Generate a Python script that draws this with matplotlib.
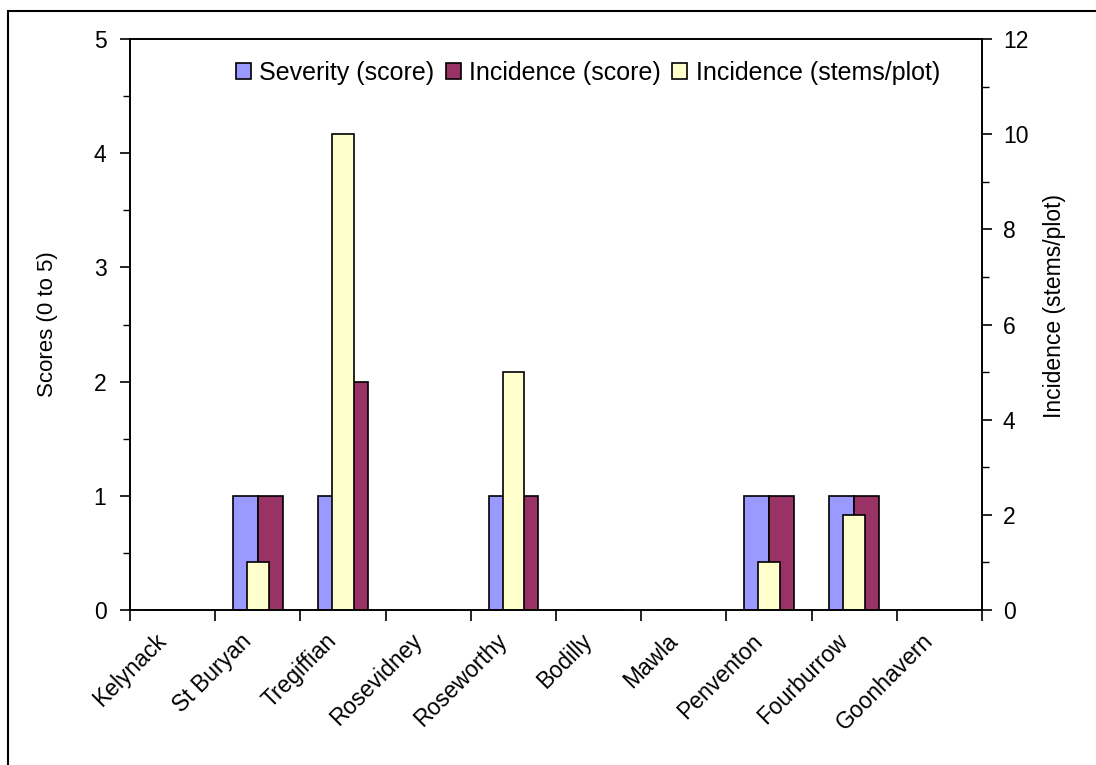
import matplotlib.pyplot as plt
import matplotlib.ticker as mticker
import matplotlib.transforms as mtransforms
from matplotlib.patches import Rectangle, Patch
import numpy as np

# Sites and disease assessments
sites = ['Kelynack', 'St Buryan', 'Tregiffian', 'Rosevidney', 'Roseworthy',
         'Bodilly', 'Mawla', 'Penventon', 'Fourburrow', 'Goonhavern']
severity_score = [0, 1, 1, 0, 1, 0, 0, 1, 1, 0]
incidence_score = [0, 1, 2, 0, 1, 0, 0, 1, 1, 0]
incidence_stems = [0, 1, 10, 0, 5, 0, 0, 1, 2, 0]

FS = 16.5
plt.rcParams.update({
    'font.family': ['Liberation Sans', 'DejaVu Sans'],
    'font.size': FS,
})

C_SEV = '#9999FF'
C_INC = '#993366'
C_STEM = '#FFFFCC'

fig = plt.figure(figsize=(10.96, 7.65), dpi=100)
ax1 = fig.add_axes([130 / 1096, 1 - 610 / 765, 852 / 1096, 571 / 765])
ax2 = ax1.twinx()

x = np.arange(len(sites))
w = 0.29
ax1.bar(x - w / 2, severity_score, width=w, color=C_SEV,
        edgecolor='black', linewidth=1.2, zorder=2)
ax1.bar(x + w / 2, incidence_score, width=w, color=C_INC,
        edgecolor='black', linewidth=1.2, zorder=2)
ax2.bar(x, incidence_stems, width=0.255, color=C_STEM,
        edgecolor='black', linewidth=1.2, zorder=2)

# Left axis: scores
ax1.set_xlim(-0.5, len(sites) - 0.5)
ax1.set_ylim(0, 5)
ax1.yaxis.set_major_locator(mticker.MultipleLocator(1))
ax1.yaxis.set_minor_locator(mticker.MultipleLocator(0.5))
ax1.set_ylabel('Scores (0 to 5)', fontsize=FS - 0.5)
ax1.yaxis.set_label_coords(-0.084, 0.5)
ax1.tick_params(axis='y', which='major', direction='out', length=7,
                width=1.2, pad=10)
ax1.tick_params(axis='y', which='minor', direction='out', length=5, width=1.0)

# Right axis: stems per plot
ax2.set_ylim(0, 12)
ax2.yaxis.set_major_locator(mticker.MultipleLocator(2))
ax2.yaxis.set_minor_locator(mticker.MultipleLocator(1))
ax2.set_ylabel('Incidence (stems/plot)', fontsize=FS)
ax2.yaxis.set_label_coords(1.072, 0.532)
ax2.tick_params(axis='y', which='major', direction='out', length=7,
                width=1.2, pad=8)
ax2.tick_params(axis='y', which='minor', direction='out', length=5, width=1.0)

# Category axis: ticks between sites, labels at centres
ax1.xaxis.set_major_locator(mticker.FixedLocator(np.arange(len(sites) + 1) - 0.5))
ax1.xaxis.set_major_formatter(mticker.NullFormatter())
ax1.xaxis.set_minor_locator(mticker.FixedLocator(x))
ax1.set_xticklabels(sites, minor=True, rotation=45, ha='right',
                    rotation_mode='anchor')
ax1.tick_params(axis='x', which='major', direction='out', length=8, width=1.2)
ax1.tick_params(axis='x', which='minor', length=0, pad=14)
shift = mtransforms.ScaledTranslation(-18 / 100, 0, fig.dpi_scale_trans)
for lbl in ax1.get_xticklabels(minor=True):
    lbl.set_transform(lbl.get_transform() + shift)

for ax in (ax1, ax2):
    for sp in ax.spines.values():
        sp.set_linewidth(1.2)

handles = [Patch(facecolor=C_SEV, edgecolor='black', linewidth=1.2),
           Patch(facecolor=C_INC, edgecolor='black', linewidth=1.2),
           Patch(facecolor=C_STEM, edgecolor='black', linewidth=1.2)]
labels = ['Severity (score)', 'Incidence (score)', 'Incidence (stems/plot)']
ax2.legend(handles, labels, loc='center', ncol=3, frameon=False,
           bbox_to_anchor=(588 / 1096, 1 - 73 / 765),
           bbox_transform=fig.transFigure,
           handlelength=0.6, handleheight=0.6, handletextpad=0.35,
           columnspacing=0.45, fontsize=18)

# Chart area border
fig.patches.append(Rectangle((8 / 1096, -0.05), 1.2, 1 - 11 / 765 + 0.05,
                             transform=fig.transFigure, fill=False,
                             edgecolor='black', linewidth=1.5))

fig.savefig('out.png', dpi=100)
